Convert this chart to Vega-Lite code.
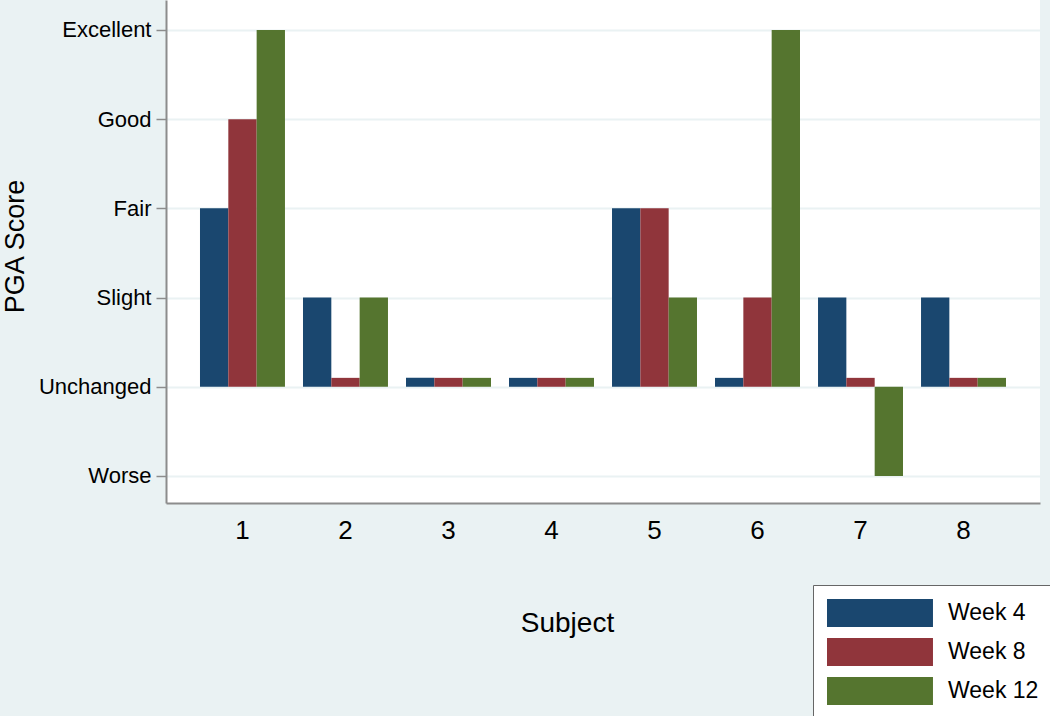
{
  "$schema": "https://vega.github.io/schema/vega-lite/v6.json",
  "width": 874,
  "height": 503,
  "autosize": {"type": "none"},
  "padding": {"left": 166, "top": 0, "right": 10, "bottom": 213},
  "background": "#EAF2F3",
  "config": {
    "font": "Liberation Sans",
    "view": {"fill": "white", "stroke": null}
  },
  "data": {
    "values": [
      {"subject": "1", "week": "Week 4", "score": 2},
      {"subject": "1", "week": "Week 8", "score": 3},
      {"subject": "1", "week": "Week 12", "score": 4},
      {"subject": "2", "week": "Week 4", "score": 1},
      {"subject": "2", "week": "Week 8", "score": 0.1},
      {"subject": "2", "week": "Week 12", "score": 1},
      {"subject": "3", "week": "Week 4", "score": 0.1},
      {"subject": "3", "week": "Week 8", "score": 0.1},
      {"subject": "3", "week": "Week 12", "score": 0.1},
      {"subject": "4", "week": "Week 4", "score": 0.1},
      {"subject": "4", "week": "Week 8", "score": 0.1},
      {"subject": "4", "week": "Week 12", "score": 0.1},
      {"subject": "5", "week": "Week 4", "score": 2},
      {"subject": "5", "week": "Week 8", "score": 2},
      {"subject": "5", "week": "Week 12", "score": 1},
      {"subject": "6", "week": "Week 4", "score": 0.1},
      {"subject": "6", "week": "Week 8", "score": 1},
      {"subject": "6", "week": "Week 12", "score": 4},
      {"subject": "7", "week": "Week 4", "score": 1},
      {"subject": "7", "week": "Week 8", "score": 0.1},
      {"subject": "7", "week": "Week 12", "score": -1},
      {"subject": "8", "week": "Week 4", "score": 1},
      {"subject": "8", "week": "Week 8", "score": 0.1},
      {"subject": "8", "week": "Week 12", "score": 0.1}
    ]
  },
  "mark": {"type": "bar"},
  "encoding": {
    "x": {
      "field": "subject",
      "type": "nominal",
      "scale": {"paddingInner": 0.175, "paddingOuter": 0.33},
      "axis": {
        "title": "Subject",
        "titleFontSize": 28,
        "titleFontWeight": "normal",
        "titleColor": "black",
        "titleX": 401,
        "titleY": 120,
        "titleBaseline": "middle",
        "labelAngle": 0,
        "labelFontSize": 26,
        "labelColor": "black",
        "labelPadding": 14,
        "ticks": false,
        "domainColor": "#8c8c8c",
        "domainWidth": 2
      }
    },
    "xOffset": {
      "field": "week",
      "type": "nominal",
      "sort": ["Week 4", "Week 8", "Week 12"],
      "scale": {"paddingInner": 0, "paddingOuter": 0}
    },
    "y": {
      "field": "score",
      "type": "quantitative",
      "scale": {"domain": [-1.303, 4.336], "nice": false, "zero": false},
      "axis": {
        "title": "PGA Score",
        "titleFontSize": 27,
        "titleFontWeight": "normal",
        "titleColor": "black",
        "titleX": -151,
        "titleY": 246,
        "titleBaseline": "middle",
        "values": [-1, 0, 1, 2, 3, 4],
        "labelExpr": "datum.value == 4 ? 'Excellent' : datum.value == 3 ? 'Good' : datum.value == 2 ? 'Fair' : datum.value == 1 ? 'Slight' : datum.value == 0 ? 'Unchanged' : 'Worse'",
        "labelFontSize": 22,
        "labelColor": "black",
        "labelPadding": 5,
        "tickSize": 10,
        "tickColor": "#8c8c8c",
        "tickWidth": 1.5,
        "domainColor": "#8c8c8c",
        "domainWidth": 2,
        "grid": true,
        "gridColor": "#EAF2F3",
        "gridWidth": 2
      }
    },
    "color": {
      "field": "week",
      "type": "nominal",
      "sort": ["Week 4", "Week 8", "Week 12"],
      "scale": {"domain": ["Week 4", "Week 8", "Week 12"], "range": ["#1a476f", "#90353b", "#55752f"]},
      "legend": {
        "title": null,
        "orient": "none",
        "legendX": 647,
        "legendY": 585,
        "direction": "vertical",
        "fillColor": "white",
        "strokeColor": "#666666",
        "padding": 14,
        "symbolType": "M-1,-1H6.57V1H-1Z",
        "symbolSize": 784,
        "symbolStrokeWidth": 0,
        "symbolOpacity": 1,
        "labelFontSize": 23,
        "labelColor": "black",
        "labelOffset": 93,
        "rowPadding": 11
      }
    }
  }
}
